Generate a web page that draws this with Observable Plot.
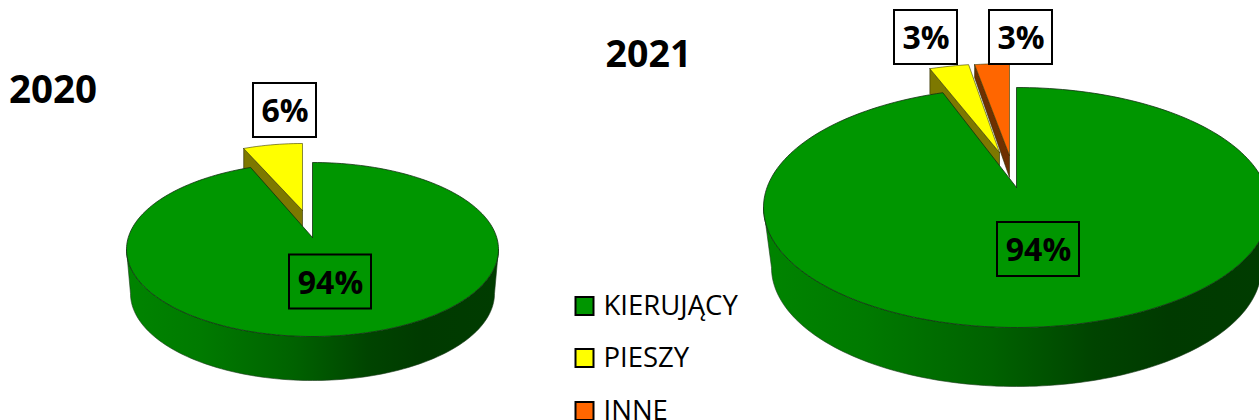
<!DOCTYPE html>
<html lang="pl">
<head>
<meta charset="utf-8">
<style>html,body{margin:0;padding:0;background:#fff;overflow:hidden}svg{display:block}</style>
<script src="https://cdn.jsdelivr.net/npm/d3@7"></script>
<script src="https://cdn.jsdelivr.net/npm/@observablehq/plot@0.6"></script>
</head>
<body>
<div id="chart"></div>
<script>
// ---- values ----
const categories = ["KIERUJĄCY", "PIESZY", "INNE"];
const years = ["2020", "2021"];
// slice sizes as drawn (share of the circle)
const shares2020 = [94.6, 5.4, 0];
const shares2021 = [95.3, 2.5, 2.2];
// printed labels
const labels2020 = ["94%", "6%", null];
const labels2021 = ["94%", "3%", "3%"];

// ---- styles ----
const topColors = ["#009600", "#ffff00", "#ff6600"];
const wallColors = [null, "#7d7800", "#6e3000"];
const font = "'Open Sans', sans-serif";

// ---- layout of each projected pie ----
const layout2020 = {
  cx: 312, cy: 249, rx: 186, ry: 87, apexY: 237,
  bottom: {cx: 312, cy: 293, rx: 182, ry: 87},
  explode: [null,
    {rimDx: -10, rimDy: -19, k: 0.95, apexDx: -10, apexDy: -27, apexDrop: 16, rimDrop: 20}, null],
  labelAt: [{x: 330, y: 281.5}, {x: 284.5, y: 110}, null],
  title: {x: 52.5, y: 90, size: 38.5}
};
const layout2021 = {
  cx: 1016, cy: 207, rx: 253, ry: 120, apexY: 187,
  bottom: {cx: 1016, cy: 267, rx: 245, ry: 119},
  explode: [null,
    {rimDx: -13, rimDy: -24, k: 1, apexDx: -17, apexDy: -35, apexDrop: 13, rimDrop: 25},
    {rimDx: -7, rimDy: -24, k: 1, apexDx: -7, apexDy: -32, apexDrop: 22, rimDrop: 13}],
  labelAt: [{x: 1038, y: 249}, {x: 925.5, y: 37}, {x: 1020.5, y: 37}],
  title: {x: 648, y: 54, size: 37.5}
};
const legendY = [306, 358, 411];

// ---- geometry derived from the shares ----
const rad = Math.PI / 180;
const rimPoint = (e, deg, k = 1, dx = 0, dy = 0) => ({
  x: e.cx + dx + e.rx * k * Math.sin(deg * rad),
  y: e.cy + dy - e.ry * Math.cos(deg * rad)
});
const arc = (e, from, to, k, dx, dy) => {
  const n = Math.max(2, Math.ceil(Math.abs(to - from) / 1.5));
  return d3.range(n + 1).map(i => rimPoint(e, from + (to - from) * i / n, k, dx, dy));
};
const shape = (opts, pts) => Plot.line([...pts, pts[0]], {
  x: "x", y: "y", curve: "linear", strokeLinejoin: "round", ...opts
});

function pieMarks(shares, labels, L) {
  const total = d3.sum(shares);
  let acc = 0;
  const slices = shares.map((v, i) => {
    const a0 = acc * 360 / total;
    acc += v;
    return {i, v, a0, a1: acc * 360 / total};
  });
  const marks = [];
  // detached slices, farthest from the viewer first
  for (const s of [...slices].reverse()) {
    const ex = L.explode[s.i];
    if (!ex || !s.v) continue;
    const rim = arc(L, s.a0, s.a1, ex.k, ex.rimDx, ex.rimDy);
    const apex = {x: L.cx + ex.apexDx, y: L.apexY + ex.apexDy};
    const left = rim[0];
    // side wall below the slice's left edge
    marks.push(shape({fill: wallColors[s.i], stroke: "#2a2a00", strokeWidth: 0.6}, [
      left, apex,
      {x: apex.x, y: apex.y + ex.apexDrop},
      {x: left.x, y: left.y + ex.rimDrop}
    ]));
    marks.push(shape({fill: topColors[s.i], stroke: "#3a3a00", strokeWidth: 0.6}, [apex, ...rim]));
  }
  // the large slice: wall, then top
  const b = L.bottom;
  marks.push(shape({fill: "url(#wallGradient)", stroke: "#1c3a1c", strokeWidth: 0.6},
    [...arc(L, 90, 270), ...arc(b, 270, 90)]));
  const big = slices[0];
  marks.push(shape({fill: topColors[0], stroke: "#123012", strokeWidth: 0.8},
    [{x: L.cx, y: L.apexY}, ...arc(L, big.a0, big.a1)]));
  // boxed labels
  const boxes = labels.map((t, i) => t && ({t, i, ...L.labelAt[i], w: t.length === 3 ? 82 : 63, h: 54})).filter(Boolean);
  marks.push(Plot.rect(boxes, {
    x1: d => d.x - d.w / 2, x2: d => d.x + d.w / 2,
    y1: d => d.y - d.h / 2, y2: d => d.y + d.h / 2,
    fill: d => d.i === 0 ? "none" : "#fff", stroke: "#000", strokeWidth: 2
  }));
  marks.push(Plot.text(boxes, {
    x: "x", y: "y", dy: 1.5, text: "t", fontSize: 32, fontWeight: 700, fill: "#000", fontFamily: font
  }));
  return marks;
}

const defs = () => {
  const d = d3.create("svg:defs");
  const g = d.append("linearGradient").attr("id", "wallGradient")
    .attr("x1", 0).attr("x2", 1).attr("y1", 0).attr("y2", 0);
  [[0, "#008400"], [0.2, "#007a00"], [0.45, "#006200"], [0.65, "#004400"], [0.8, "#003a00"], [1, "#003c00"]]
    .forEach(([o, c]) => g.append("stop").attr("offset", o).attr("stop-color", c));
  return d.node();
};

const titleData = [
  {t: years[0], ...layout2020.title},
  {t: years[1], ...layout2021.title}
];
const legendData = categories.map((name, i) => ({name, y: legendY[i], color: topColors[i]}));

const chart = Plot.plot({
  width: 1259, height: 420,
  margin: 0,
  x: {type: "linear", domain: [0, 1259], range: [0, 1259], axis: null},
  y: {type: "linear", domain: [0, 420], range: [0, 420], axis: null},
  style: {background: "#fff", overflow: "hidden"},
  marks: [
    defs,
    ...pieMarks(shares2020, labels2020, layout2020),
    ...pieMarks(shares2021, labels2021, layout2021),
    Plot.text(titleData, {
      x: "x", y: "y", text: "t", fontSize: d => d.size, fontWeight: 700, fill: "#000", fontFamily: font
    }),
    Plot.rect(legendData, {
      x1: () => 575.5, x2: () => 593.5,
      y1: d => d.y - 9, y2: d => d.y + 9,
      fill: "color", stroke: "#000", strokeWidth: 2
    }),
    Plot.text(legendData, {
      x: () => 603, y: "y", text: "name", textAnchor: "start", fontSize: 27.5, fill: "#000", fontFamily: font
    })
  ]
});
document.getElementById("chart").append(chart);
</script>
</body>
</html>
